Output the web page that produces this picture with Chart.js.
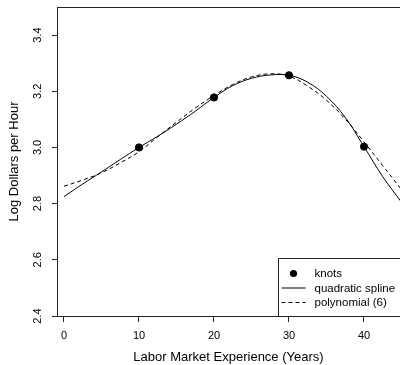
<!DOCTYPE html>
<html>
<head>
<meta charset="utf-8">
<script src="https://cdn.jsdelivr.net/npm/chart.js@4"></script>
<style>
  html, body { margin: 0; padding: 0; background: #fff; }
  canvas { display: block; }
</style>
</head>
<body>
<canvas id="myChart" width="400" height="365"></canvas>
<script>
// datos
const experience = [0, 2.5, 5, 7.5, 10, 12.5, 15, 17.5, 20, 22.5, 25, 27.5, 30, 32.5, 35, 37.5, 40, 42.5, 45];
const splineFit = [2.825, 2.870, 2.913, 2.957, 3.000, 3.040, 3.083, 3.129, 3.178, 3.220, 3.246, 3.258, 3.257, 3.232, 3.182, 3.107, 3.003, 2.896, 2.805];
const polyFit = [2.862, 2.884, 2.910, 2.945, 2.985, 3.038, 3.090, 3.140, 3.185, 3.224, 3.251, 3.262, 3.254, 3.218, 3.168, 3.101, 3.020, 2.935, 2.850];
const knotX = [10, 20, 30, 40];
const knotY = [3.000, 3.178, 3.257, 3.003];
const xTicks = [0, 10, 20, 30, 40];
const yTicks = [2.4, 2.6, 2.8, 3.0, 3.2, 3.4];
const legendLabels = ["knots", "quadratic spline", "polynomial (6)"];

const toPoints = (xs, ys) => xs.map((x, i) => ({ x: x, y: ys[i] }));
const fuente = "'Liberation Sans', Arial, Helvetica, sans-serif";

// marco superior y leyenda estilo R
const marcoYLeyenda = {
  id: 'marcoYLeyenda',
  afterDraw(chart) {
    const c = chart.ctx;
    const area = chart.chartArea;
    c.save();
    c.strokeStyle = '#222';
    c.lineWidth = 1;
    c.beginPath();
    c.moveTo(area.left, area.top + 0.5);
    c.lineTo(area.right + 1, area.top + 0.5);
    c.stroke();

    const bx = area.right - 121.5;
    const by = area.bottom - 57.5;
    c.fillStyle = '#fff';
    c.fillRect(bx, by, 125, area.bottom - by);
    c.beginPath();
    c.moveTo(area.right + 2, by);
    c.lineTo(bx, by);
    c.lineTo(bx, area.bottom);
    c.stroke();

    const rows = [by + 15, by + 29.5, by + 44];
    c.fillStyle = '#000';
    c.beginPath();
    c.arc(bx + 15, rows[0], 3.6, 0, Math.PI * 2);
    c.fill();
    c.strokeStyle = '#000';
    c.beginPath();
    c.moveTo(bx + 3, rows[1]);
    c.lineTo(bx + 27, rows[1]);
    c.stroke();
    c.setLineDash([4, 3]);
    c.beginPath();
    c.moveTo(bx + 3, rows[2]);
    c.lineTo(bx + 27, rows[2]);
    c.stroke();
    c.setLineDash([]);

    c.font = '11.5px ' + fuente;
    c.textBaseline = 'middle';
    c.textAlign = 'left';
    legendLabels.forEach((t, i) => c.fillText(t, bx + 36, rows[i] + 0.5));
    c.restore();
  }
};

const ctx = document.getElementById("myChart").getContext("2d");
const myChart = new Chart(ctx, {
  type: "scatter",
  data: {
    datasets: [
      {
        label: legendLabels[0],
        data: toPoints(knotX, knotY),
        backgroundColor: "#000",
        borderColor: "#000",
        pointRadius: 3.6,
        showLine: false,
      },
      {
        label: legendLabels[1],
        data: toPoints(experience, splineFit),
        borderColor: "#000",
        borderWidth: 1,
        pointRadius: 0,
        showLine: true,
        tension: 0.4,
      },
      {
        label: legendLabels[2],
        data: toPoints(experience, polyFit),
        borderColor: "#000",
        borderWidth: 1,
        borderDash: [4, 3],
        pointRadius: 0,
        showLine: true,
        tension: 0.4,
      },
    ],
  },
  options: {
    responsive: false,
    animation: false,
    devicePixelRatio: 1,
    layout: { autoPadding: false, padding: { top: 7, right: 0, left: 0, bottom: 0 } },
    plugins: { legend: { display: false }, tooltip: { enabled: false } },
    scales: {
      x: {
        type: "linear",
        min: -0.933,
        max: 44.8,
        afterBuildTicks: s => { s.ticks = xTicks.map(v => ({ value: v })); },
        afterFit: s => { s.height = 49; s.paddingLeft = 0; s.paddingRight = 0; },
        grid: { drawOnChartArea: false, tickLength: 6, color: "#222" },
        border: { display: true, color: "#222" },
        ticks: { font: { size: 11, family: fuente }, color: "#000", padding: 7, maxRotation: 0 },
        title: { display: true, text: "Labor Market Experience (Years)", font: { size: 13, family: fuente }, color: "#000", padding: { top: 0, bottom: 0 } },
      },
      y: {
        min: 2.4,
        max: 3.5,
        afterBuildTicks: s => { s.ticks = yTicks.map(v => ({ value: v })); },
        afterFit: s => { s.width = 57; s.paddingTop = 0; s.paddingBottom = 0; },
        grid: { drawOnChartArea: false, tickLength: 5, color: "#222" },
        border: { display: true, color: "#222" },
        ticks: {
          font: { size: 11, family: fuente },
          color: "#000",
          minRotation: 90,
          maxRotation: 90,
          crossAlign: "center",
          padding: 6,
          callback: v => v.toFixed(1),
        },
        title: { display: true, text: "Log Dollars per Hour", font: { size: 13, family: fuente }, color: "#000", padding: { top: 7, bottom: 0 } },
      },
    },
  },
  plugins: [marcoYLeyenda],
});
</script>
</body>
</html>
